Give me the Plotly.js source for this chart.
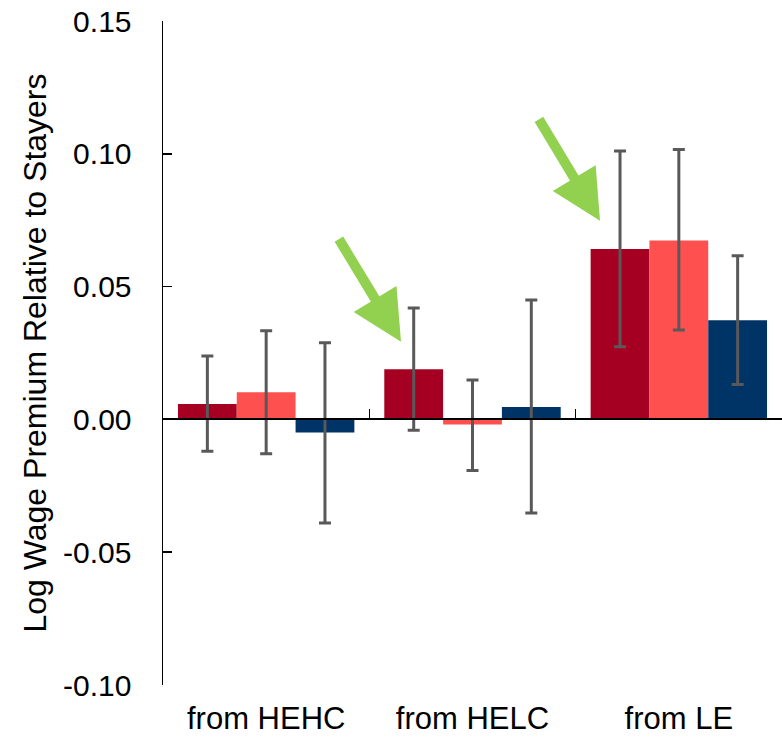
<!DOCTYPE html>
<html>
<head>
<meta charset="utf-8">
<script src="https://cdn.plot.ly/plotly-3.0.1.min.js"></script>
<style>html,body{margin:0;padding:0;background:#fff;}#chart{width:782px;height:739px;}</style>
</head>
<body>
<div id="chart"></div>
<script>
const categories = ["from HEHC", "from HELC", "from LE"];

const seriesA = [0.0058, 0.0189, 0.0642];
const seriesA_hi = [0.0239, 0.0419, 0.1011];
const seriesA_lo = [-0.0120, -0.0041, 0.0274];

const seriesB = [0.0102, -0.0019, 0.0674];
const seriesB_hi = [0.0334, 0.0148, 0.1016];
const seriesB_lo = [-0.0129, -0.0192, 0.0337];

const seriesC = [-0.0049, 0.0047, 0.0373];
const seriesC_hi = [0.0289, 0.0450, 0.0616];
const seriesC_lo = [-0.0390, -0.0352, 0.0131];

const yTickVals = [-0.10, -0.05, 0.00, 0.05, 0.10, 0.15];
const yTickText = ["-0.10", "-0.05", "0.00", "0.05", "0.10", "0.15"];

function mkBar(vals, hi, lo, color) {
  return {
    type: "bar",
    x: categories,
    y: vals,
    marker: {color: color, line: {width: 0}},
    error_y: {
      type: "data",
      symmetric: false,
      array: vals.map((v, i) => hi[i] - v),
      arrayminus: vals.map((v, i) => v - lo[i]),
      color: "#595959",
      thickness: 3,
      width: 6
    },
    showlegend: false,
    hoverinfo: "skip"
  };
}

const traces = [
  mkBar(seriesA, seriesA_hi, seriesA_lo, "#A50021"),
  mkBar(seriesB, seriesB_hi, seriesB_lo, "#FF5050"),
  mkBar(seriesC, seriesC_hi, seriesC_lo, "#003366"),
  {type: "scatter", mode: "markers", x: categories, y: [null, null, null], xaxis: "x2", yaxis: "y", showlegend: false, hoverinfo: "skip"}
];

const font = "Liberation Sans, Arial, sans-serif";

const layout = {
  width: 782,
  height: 739,
  margin: {l: 163, r: 0, t: 21, b: 54},
  paper_bgcolor: "#fff",
  plot_bgcolor: "#fff",
  barmode: "group",
  bargap: 0.145,
  bargroupgap: 0,
  font: {family: font, color: "#000", size: 30},
  xaxis: {
    type: "category",
    showline: false,
    ticks: "",
    showgrid: false,
    zeroline: false,
    tickfont: {family: font, size: 31, color: "#000"},
    ticklabelstandoff: 12
  },
  xaxis2: {
    type: "category",
    matches: "x",
    overlaying: "x",
    anchor: "free",
    position: 0.4,
    showline: true,
    linecolor: "#000",
    linewidth: 2,
    ticks: "inside",
    tickson: "boundaries",
    ticklen: 9,
    tickwidth: 1.5,
    tickcolor: "#000",
    showticklabels: false,
    showgrid: false,
    zeroline: false
  },
  yaxis: {
    range: [-0.10, 0.15],
    tickvals: yTickVals,
    ticktext: yTickText,
    ticks: "inside",
    ticklen: 9,
    tickwidth: 1.5,
    tickcolor: "#000",
    showline: true,
    linecolor: "#000",
    linewidth: 1.5,
    showgrid: false,
    zeroline: false,
    tickfont: {family: font, size: 30, color: "#000"},
    ticklabelstandoff: 24,
    title: {text: "Log Wage Premium Relative to Stayers", font: {family: font, size: 32, color: "#000"}, standoff: 7}
  },
  annotations: [
    {xref: "paper", yref: "paper", x: 0.3845, y: 0.517, ax: -63, ay: -104, text: "", showarrow: true,
     arrowhead: 2, arrowsize: 1, arrowwidth: 10, arrowcolor: "#92D050"},
    {xref: "paper", yref: "paper", x: 0.706, y: 0.699, ax: -62, ay: -103, text: "", showarrow: true,
     arrowhead: 2, arrowsize: 1, arrowwidth: 10, arrowcolor: "#92D050"}
  ]
};

Plotly.newPlot("chart", traces, layout, {displayModeBar: false, staticPlot: true});
</script>
</body>
</html>
